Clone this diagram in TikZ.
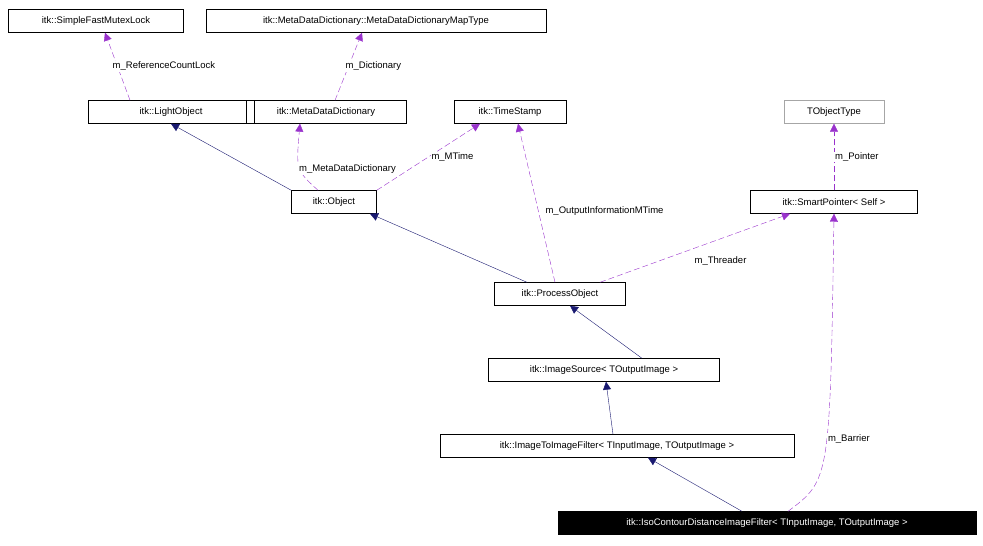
\documentclass[tikz,border=0pt]{standalone}
\usepackage{fontspec}
\setmainfont{Liberation Sans}
\usepackage{tikz}
\usetikzlibrary{arrows.meta,positioning}

\begin{document}
\begin{tikzpicture}[x=1pt, y=-1pt, font=\fontsize{9.5}{11}\selectfont]
        \tikzstyle{cls} = [rectangle, draw, minimum height=23pt, inner sep=0pt]
        \tikzstyle{inherit} = [draw, color={rgb,255:red,25;green,25;blue,112}, -{Triangle[length=8pt,width=8pt]}]
        \tikzstyle{member} = [draw, color={rgb,255:red,153;green,50;blue,204}, dashed, dash pattern=on 6pt off 3pt, -{Triangle[length=8pt,width=8pt]}]
        \tikzstyle{lbl} = [text=black, fill=white, inner sep=1pt]
        \useasboundingbox (0,0) rectangle (983,546);

        \node [cls, minimum width=175pt] (mutex) at (96,21) {itk::SimpleFastMutexLock};
        \node [cls, minimum width=340pt] (maptype) at (376,21) {itk::MetaDataDictionary::MetaDataDictionaryMapType};
        \node [cls, minimum width=166pt] (light) at (171,112) {itk::LightObject};
        \node [cls, minimum width=160pt] (dict) at (326,112) {itk::MetaDataDictionary};
        \node [cls, minimum width=112pt] (stamp) at (510,112) {itk::TimeStamp};
        \node [cls, minimum width=100pt, draw=gray!70] (tobj) at (834,112) {TObjectType};
        \node [cls, minimum width=85pt] (object) at (334,202) {itk::Object};
        \node [cls, minimum width=167pt] (smart) at (834,202) {itk::SmartPointer< Self >};
        \node [cls, minimum width=131pt] (process) at (560,294) {itk::ProcessObject};
        \node [cls, minimum width=231pt] (source) at (604,370) {itk::ImageSource< TOutputImage >};
        \node [cls, minimum width=354pt] (filter) at (617,446) {itk::ImageToImageFilter< TInputImage, TOutputImage >};
        \node [cls, minimum width=418pt, fill=black, text=white] (iso) at (767,523) {itk::IsoContourDistanceImageFilter< TInputImage, TOutputImage >};

        % inheritance
        \path [inherit] (object.north west) ++(0,0) -- (light.south);
        \path [inherit] ([xshift=-33pt]process.north) -- ([xshift=36pt]object.south);
        \path [inherit] ([xshift=38pt]source.north) -- ([xshift=10pt]process.south);
        \path [inherit] ([xshift=-4pt]filter.north) -- ([xshift=2pt]source.south);
        \path [inherit] ([xshift=-25pt]iso.north) -- ([xshift=31pt]filter.south);

        % members
        \path [member] ([xshift=-41pt]light.north) -- node [lbl, pos=0.5, right=-6pt] {m\_ReferenceCountLock} ([xshift=9pt]mutex.south);
        \path [member] ([xshift=9pt]dict.north) -- node [lbl, pos=0.5, right=-4pt] {m\_Dictionary} ([xshift=-14pt]maptype.south);
        \path [member] ([xshift=-16pt]object.north) .. controls (296,170) .. node [lbl, pos=0.45, right=-2pt] {m\_MetaDataDictionary} ([xshift=-26pt]dict.south);
        \path [member] (object.north east) -- node [lbl, pos=0.5, right=2pt] {m\_MTime} ([xshift=-30pt]stamp.south);
        \path [member] ([xshift=-5pt]process.north) -- node [lbl, pos=0.45, right=6pt] {m\_OutputInformationMTime} ([xshift=8pt]stamp.south);
        \path [member] ([xshift=40pt]process.north) -- node [lbl, pos=0.45, below right=4pt and 8pt] {m\_Threader} ([xshift=-44pt]smart.south);
        \path [member] (smart.north) -- node [lbl, right=0pt] {m\_Pointer} (tobj.south);
        \path [member] ([xshift=21pt]iso.north) .. controls (830,480) .. node [lbl, pos=0.55, right=0pt] {m\_Barrier} (smart.south);
\end{tikzpicture}
\end{document}
